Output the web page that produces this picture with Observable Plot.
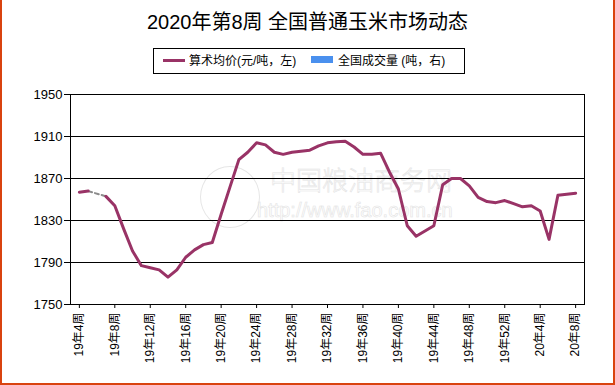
<!DOCTYPE html>
<html><head><meta charset="utf-8">
<script src="https://cdn.jsdelivr.net/npm/d3@7"></script>
<script src="https://cdn.jsdelivr.net/npm/@observablehq/plot@0.6"></script>
<style>
body{margin:0;background:#fff;}
#wrap{position:relative;width:615px;height:385px;overflow:hidden;background:#fff;font-family:"Liberation Sans","Noto Sans CJK SC",sans-serif;color:#000;}
.bd{position:absolute;background:#D9430F;}
#title{position:absolute;left:0;top:10px;width:615px;text-align:center;font-size:20px;line-height:24px;}
#legend{position:absolute;left:153px;top:48px;width:312px;height:26px;box-sizing:border-box;border:1px solid #000;font-size:12px;}
#legend .sw{position:absolute;}
#legend .tx{position:absolute;top:4px;line-height:16px;white-space:nowrap;}
#chart{position:absolute;left:0;top:80px;z-index:2;}
.wm{position:absolute;color:transparent;-webkit-text-stroke:0.6px #e3e3e3;white-space:nowrap;z-index:1;font-weight:300;}
#wmlogo{position:absolute;left:200px;top:166px;width:58px;height:60px;border:1px solid #e6e6e6;border-radius:50%;z-index:1;}
</style></head>
<body>
<div id="wrap">
  <div id="title">2020年第8周 全国普通玉米市场动态</div>
  <div id="legend"></div>
  <div id="wmlogo"></div>
  <div class="wm" style="left:270px;top:160px;font-size:26px;">中国粮油商务网</div>
  <div class="wm" style="left:257px;top:199px;font-size:20px;">http://www.fao.com.cn</div>
  <div id="chart"></div>
  <div class="bd" style="left:0;top:0;width:2px;height:385px;"></div>
  <div class="bd" style="left:613px;top:0;width:2px;height:385px;"></div>
  <div class="bd" style="left:0;top:383px;width:615px;height:2px;"></div>
</div>
<script>
// ---- data ----
const weeks2019 = d3.range(4, 53).map(w => `19年${w}周`);
const weeks2020 = d3.range(1, 9).map(w => `20年${w}周`);
const weeks = [...weeks2019, ...weeks2020];
const prices = [
  1857, 1858, null, 1853, 1844, 1822, 1801, 1787, 1785, 1783,
  1776, 1783, 1795, 1802, 1807, 1809, 1836, 1862, 1888, 1895,
  1904, 1902, 1895, 1893, 1895, 1896, 1897, 1901, 1904, 1905,
  1905.5, 1900, 1893, 1893, 1894, 1876, 1860, 1825, 1815, 1820,
  1825, 1864, 1870, 1870, 1863, 1852, 1848, 1847, 1849, 1846,
  1843, 1844, 1839, 1812, 1854, 1855, 1856
];
const bridgeWeeks = ["19年5周", "19年7周"];
const xTicks = ["19年4周","19年8周","19年12周","19年16周","19年20周","19年24周","19年28周","19年32周","19年36周","19年40周","19年44周","19年48周","19年52周","20年4周","20年8周"];
const yTicks = [1750, 1790, 1830, 1870, 1910, 1950];
const seriesNames = ["算术均价(元/吨，左)", "全国成交量 (吨，右)"];
const seriesColors = ["#993366", "#4A90EE"];

const rows = weeks.map((w, i) => ({week: w, price: prices[i]}));
const bridge = rows.filter(d => bridgeWeeks.includes(d.week));

// ---- legend ----
const lg = document.getElementById("legend");
lg.innerHTML =
  `<div class="sw" style="left:9px;top:10px;width:22px;height:3px;background:${seriesColors[0]}"></div>` +
  `<div class="tx" style="left:35px">${seriesNames[0]}</div>` +
  `<div class="sw" style="left:157px;top:7px;width:22px;height:7px;background:${seriesColors[1]}"></div>` +
  `<div class="tx" style="left:184px">${seriesNames[1]}</div>`;

// ---- chart ----
const chart = Plot.plot({
  width: 615, height: 303,
  marginTop: 14, marginBottom: 79, marginLeft: 70, marginRight: 31,
  style: {background: "transparent", fontFamily: '"Liberation Sans","Noto Sans CJK SC",sans-serif', fontSize: "12px", color: "#000"},
  x: {type: "point", domain: weeks, padding: 1},
  y: {domain: [1750, 1950]},
  marks: [
    Plot.ruleY(yTicks, {stroke: "#000", strokeWidth: 1}),
    Plot.frame({stroke: "#000"}),
    Plot.axisY({ticks: yTicks, tickSize: 6, tickPadding: 2, fontSize: 13, tickFormat: d => String(d), label: null}),
    Plot.axisX({ticks: xTicks, tickSize: 4, tickPadding: 4, tickRotate: -90, fontSize: 12, label: null}),
    Plot.line(bridge, {x: "week", y: "price", stroke: "#8c8c8c", strokeWidth: 2, strokeDasharray: "4,3"}),
    Plot.line(rows, {x: "week", y: "price", stroke: seriesColors[0], strokeWidth: 3, strokeLinejoin: "round"})
  ]
});
document.getElementById("chart").appendChild(chart);
</script>
</body></html>
